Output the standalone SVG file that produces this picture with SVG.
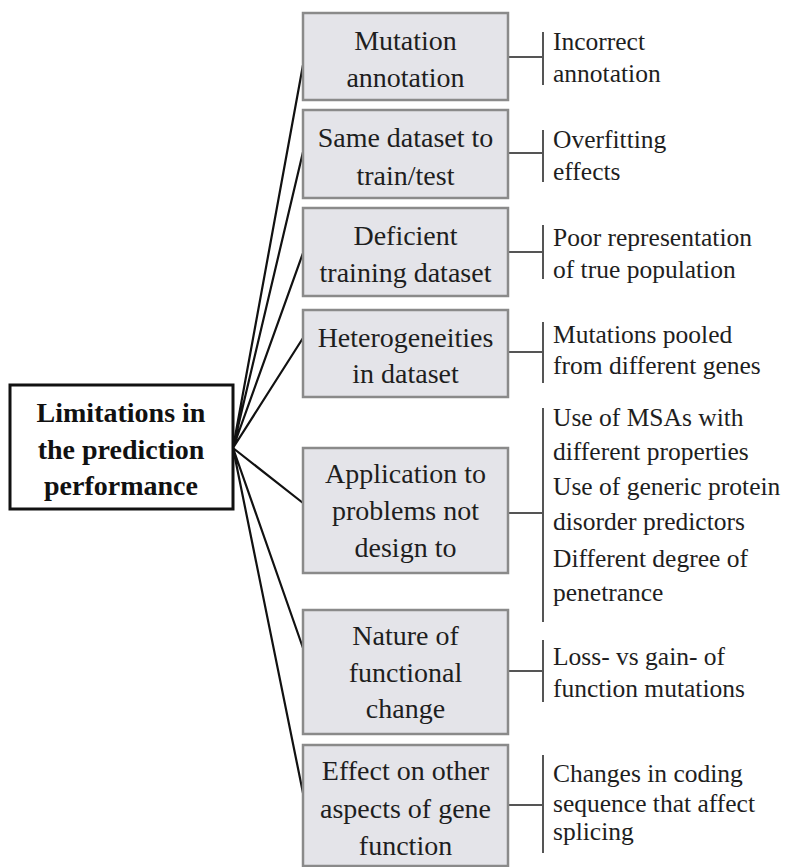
<svg xmlns="http://www.w3.org/2000/svg" width="789" height="867" viewBox="0 0 789 867">
<style>
.box{fill:#e4e4e9;stroke:#8a8a8a;stroke-width:2.5}
.root{fill:#fff;stroke:#111;stroke-width:3}
text{font-family:"Liberation Serif","Times New Roman",Times,Tinos,"DejaVu Serif",serif}
.bt{font-size:28px;fill:#1e1e1e;text-anchor:middle}
.rt{font-size:28px;font-weight:bold;fill:#111;text-anchor:middle}
.lt{font-size:25.5px;fill:#1e1e1e}
.con{stroke:#111;stroke-width:2.2;fill:none}
.br{stroke:#555;stroke-width:2;fill:none}
</style>
<rect width="789" height="867" fill="#fff"/>
<g id="connectors">
<path class="con" d="M233 448L303 65M233 448L303 152M233 448L303 253M233 448L303 338M233 448L303 503M233 448L303 648M233 448L303 793"/>
<path class="br" d="M508 57H543M543 32V85"/>
<path class="br" d="M508 153H543M543 130V182"/>
<path class="br" d="M508 252H543M543 225V279"/>
<path class="br" d="M508 352H543M543 322V383"/>
<path class="br" d="M508 513H543M543 408V622"/>
<path class="br" d="M508 671H543M543 640V702"/>
<path class="br" d="M508 805H543M543 755V853"/>
</g>
<g id="root">
<rect class="root" x="10" y="385" width="223" height="124"/>
<text class="rt" x="121" y="422">Limitations in</text>
<text class="rt" x="121" y="459">the prediction</text>
<text class="rt" x="121" y="495">performance</text>
</g>
<g id="n1">
<rect class="box" x="303" y="13" width="205" height="87"/>
<text class="bt" x="405.5" y="50">Mutation</text>
<text class="bt" x="405.5" y="87">annotation</text>
</g>
<g id="n2">
<rect class="box" x="303" y="110" width="205" height="88"/>
<text class="bt" x="405.5" y="147">Same dataset to</text>
<text class="bt" x="405.5" y="185">train/test</text>
</g>
<g id="n3">
<rect class="box" x="303" y="208" width="205" height="88"/>
<text class="bt" x="405.5" y="245">Deficient</text>
<text class="bt" x="405.5" y="282">training dataset</text>
</g>
<g id="n4">
<rect class="box" x="303" y="310" width="205" height="87"/>
<text class="bt" x="405.5" y="347">Heterogeneities</text>
<text class="bt" x="405.5" y="383">in dataset</text>
</g>
<g id="n5">
<rect class="box" x="303" y="448" width="205" height="125"/>
<text class="bt" x="405.5" y="483">Application to</text>
<text class="bt" x="405.5" y="520">problems not</text>
<text class="bt" x="405.5" y="557">design to</text>
</g>
<g id="n6">
<rect class="box" x="303" y="610" width="205" height="124"/>
<text class="bt" x="405.5" y="645">Nature of</text>
<text class="bt" x="405.5" y="682">functional</text>
<text class="bt" x="405.5" y="718">change</text>
</g>
<g id="n7">
<rect class="box" x="303" y="745" width="205" height="121"/>
<text class="bt" x="405.5" y="780">Effect on other</text>
<text class="bt" x="405.5" y="818">aspects of gene</text>
<text class="bt" x="405.5" y="855">function</text>
</g>
<g id="leaves">
<text class="lt" x="553" y="50">Incorrect</text>
<text class="lt" x="553" y="82">annotation</text>
<text class="lt" x="553" y="148">Overfitting</text>
<text class="lt" x="553" y="180">effects</text>
<text class="lt" x="553" y="246">Poor representation</text>
<text class="lt" x="553" y="278">of true population</text>
<text class="lt" x="553" y="343">Mutations pooled</text>
<text class="lt" x="553" y="374">from different genes</text>
<text class="lt" x="553" y="426">Use of MSAs with</text>
<text class="lt" x="553" y="460">different properties</text>
<text class="lt" x="553" y="495">Use of generic protein</text>
<text class="lt" x="553" y="530">disorder predictors</text>
<text class="lt" x="553" y="567">Different degree of</text>
<text class="lt" x="553" y="601">penetrance</text>
<text class="lt" x="553" y="665">Loss- vs gain- of</text>
<text class="lt" x="553" y="697">function mutations</text>
<text class="lt" x="553" y="782">Changes in coding</text>
<text class="lt" x="553" y="812">sequence that affect</text>
<text class="lt" x="553" y="840">splicing</text>
</g>
</svg>
